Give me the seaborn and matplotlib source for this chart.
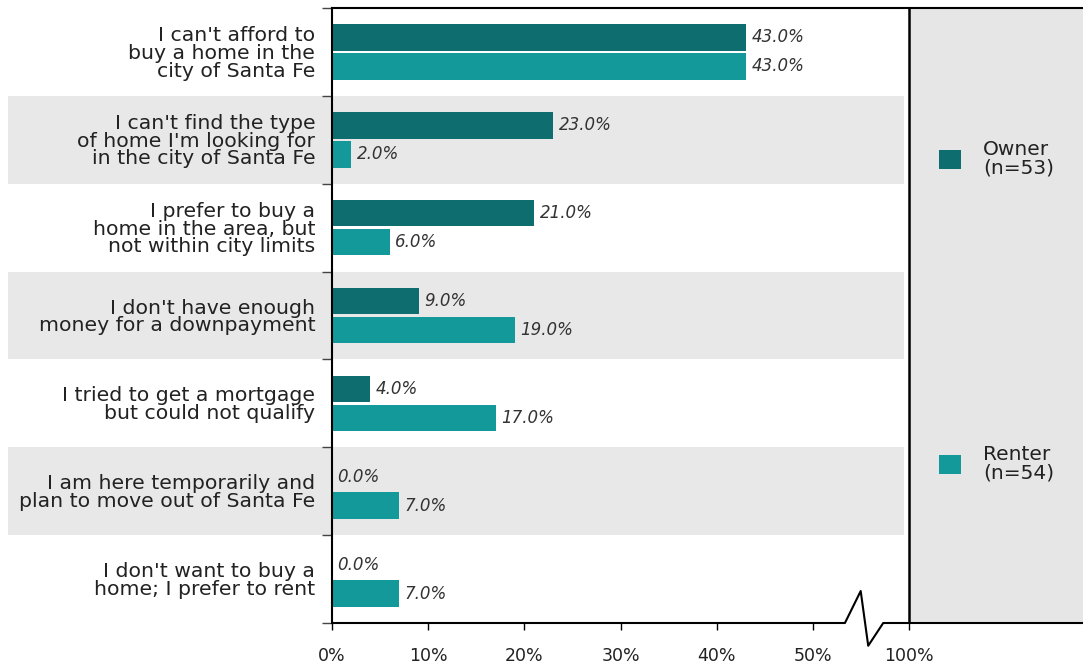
import matplotlib
matplotlib.use("Agg")
import matplotlib.pyplot as plt
import pandas as pd
import seaborn as sns

# Survey: reasons for not buying a home in Santa Fe, by tenure
reasons = [
    "I can't afford to\nbuy a home in the\ncity of Santa Fe",
    "I can't find the type\nof home I'm looking for\nin the city of Santa Fe",
    "I prefer to buy a\nhome in the area, but\nnot within city limits",
    "I don't have enough\nmoney for a downpayment",
    "I tried to get a mortgage\nbut could not qualify",
    "I am here temporarily and\nplan to move out of Santa Fe",
    "I don't want to buy a\nhome; I prefer to rent",
]
owner_pct = [43.0, 23.0, 21.0, 9.0, 4.0, 0.0, 0.0]
renter_pct = [43.0, 2.0, 6.0, 19.0, 17.0, 7.0, 7.0]
groups = ["Owner\n(n=53)", "Renter\n(n=54)"]

# x axis is broken after 50%: the 100% mark sits one step past 50%
tick_values = [0, 10, 20, 30, 40, 50, 60]
tick_labels = ["0%", "10%", "20%", "30%", "40%", "50%", "100%"]

owner_color = "#0e6e6f"
renter_color = "#14999a"
band_color = "#e8e8e8"
panel_color = "#e6e6e6"

df = pd.DataFrame({
    "reason": reasons * 2,
    "pct": owner_pct + renter_pct,
    "group": [groups[0]] * len(reasons) + [groups[1]] * len(reasons),
})

sns.set_theme(style="white")
plt.rcParams["font.family"] = ["DejaVu Sans"]
plt.rcParams["axes.axisbelow"] = True

W, H = 1083, 667
fig = plt.figure(figsize=(W / 100, H / 100), dpi=100)
left_px, right_px, top_px, bottom_px = 332, 1083, 8, 623
ax = fig.add_axes([left_px / W, 1 - bottom_px / H,
                   (right_px - left_px) / W, (bottom_px - top_px) / H])

px_per_unit = 9.62
x_max = (right_px - left_px) / px_per_unit
x_break = tick_values[-1]

sns.barplot(data=df, y="reason", x="pct", hue="group", order=reasons,
            hue_order=groups, palette=[owner_color, renter_color],
            saturation=1, width=0.66, gap=0.08, orient="h", linewidth=0,
            ax=ax)

ax.set_xlim(0, x_max)
ax.set_ylim(len(reasons) - 0.5, -0.5)

# alternating row shading, reaching into the label area
band_x0 = (8 - left_px) / (right_px - left_px)
band_x1 = (904 - left_px) / (right_px - left_px)
for i in range(1, len(reasons), 2):
    ax.axhspan(i - 0.5, i + 0.5, xmin=band_x0, xmax=band_x1,
               color=band_color, zorder=0, clip_on=False, lw=0)

# legend panel to the right of the 100% line
ax.axvspan(x_break, x_max, color=panel_color, zorder=0, lw=0)
ax.axvline(x_break, color="black", lw=1.8, zorder=3)

# value labels
for cont in ax.containers:
    ax.bar_label(cont, fmt="%.1f%%", padding=4, fontsize=12,
                 style="italic", color="#333333")

# spines
for side in ["right", "bottom"]:
    ax.spines[side].set_visible(False)
ax.spines["left"].set_color("black")
ax.spines["left"].set_linewidth(1.5)
ax.spines["top"].set_color("black")
ax.spines["top"].set_linewidth(1.5)

# bottom axis line with a break between 50% and 100%
xb = [0, 0.683, 0.704, 0.714, 0.734, 1.0]
yb = [0, 0, 0.052, -0.037, 0, 0]
ax.plot(xb, yb, color="black", lw=1.5, transform=ax.transAxes,
        clip_on=False, zorder=5)

# x ticks
ax.set_xticks(tick_values)
ax.set_xticklabels(tick_labels)
ax.tick_params(axis="x", which="major", bottom=True, length=5, width=1,
               color="black", pad=12, labelsize=12.5, labelcolor="#222222")
ax.set_xlabel("")
ax.set_ylabel("")

# y ticks: labels centred on rows, marks on row boundaries
ax.set_yticks(range(len(reasons)))
ax.set_yticklabels(reasons)
ax.set_yticks([i - 0.5 for i in range(len(reasons) + 1)], minor=True)
ax.tick_params(axis="y", which="major", left=False, length=0, pad=12,
               labelsize=14.7, labelcolor="#222222")
ax.tick_params(axis="y", which="minor", left=True, length=7, width=1,
               color="#444444")
for t in ax.get_yticklabels():
    t.set_linespacing(0.92)

# legend inside the right panel
handles, labels = ax.get_legend_handles_labels()
if ax.get_legend() is not None:
    ax.get_legend().remove()
leg = fig.legend(handles, labels, loc="upper left",
                 bbox_to_anchor=(939 / W, 1 - 140 / H),
                 bbox_transform=fig.transFigure, frameon=False,
                 fontsize=14.5, handlelength=1.1, handleheight=1.1,
                 handletextpad=1.1, labelspacing=13.3, borderpad=0,
                 borderaxespad=0)
for t in leg.get_texts():
    t.set_linespacing(0.95)
    t.set_color("#222222")

fig.savefig("out.png", dpi=100)
